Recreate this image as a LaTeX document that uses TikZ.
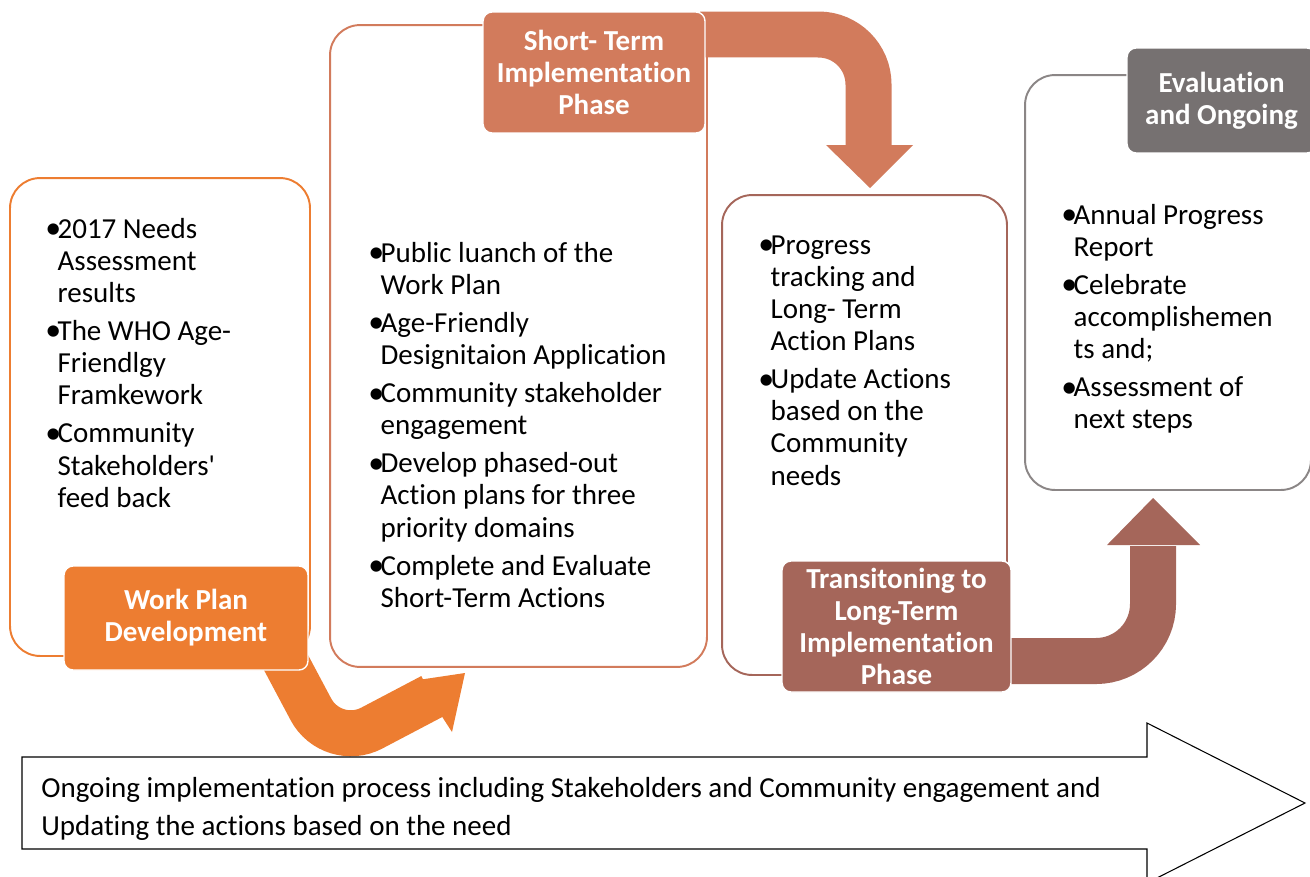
\documentclass[tikz,border=0pt]{standalone}
\usepackage{fontspec}
\setmainfont{Carlito}[Ligatures=CommonOff]
\usepackage{xcolor}
\usepackage{tikz}
\usetikzlibrary{positioning}
\definecolor{PlanOrange}{HTML}{ED7D31}
\definecolor{ShortTerra}{HTML}{D27B5C}
\definecolor{LongBrown}{HTML}{A5665A}
\definecolor{EvalGray}{HTML}{767171}
\newcommand{\bu}{\makebox[7pt][l]{\raisebox{-0.3pt}{\scalebox{1.1}{\textbullet}}}}

\begin{document}
\begin{tikzpicture}[
      x=0.02cm, y=-0.02cm,
      every node/.style={inner sep=0pt, font=\fontsize{16.5pt}{18.3pt}\selectfont},
      phasebox/.style={draw, line width=1.1pt, fill=white, rounded corners=0.6cm},
      phaselabel/.style={draw=white, line width=0.8pt, rounded corners=0.18cm, text=white, align=center, font=\fontsize{16.5pt}{18.2pt}\selectfont\bfseries},
      bullets/.style={anchor=base west, align=left},
      bendband/.style={line width=0.92cm}
    ]
      \useasboundingbox (0,0) rectangle (1310,876);

      % phase boxes
      \node[phasebox, draw=PlanOrange, minimum width=6cm, minimum height=9.56cm] (plan) at (160,417) {};
      \node[phasebox, draw=ShortTerra, minimum width=7.54cm, minimum height=12.84cm] (short) at (518.5,346) {};
      \node[phasebox, draw=LongBrown, minimum width=5.7cm, minimum height=9.6cm] (long) at (864.5,435) {};
      \node[phasebox, draw=EvalGray!85, minimum width=5.72cm, minimum height=8.3cm] (eval) at (1168,282.5) {};

      % bullet texts
      \node[bullets] (plantext) at (45,238) {\begin{tabular}[t]{@{}l@{}l@{}}
        \bu & 2017 Needs\\ & Assessment\\ & results\\[3.4pt]
        \bu & The WHO Age-\\ & Friendlgy\\ & Framkework\\[3.4pt]
        \bu & Community\\ & Stakeholders\textquotesingle\\ & feed back
      \end{tabular}};
      \node[bullets] (shorttext) at (368,262) {\begin{tabular}[t]{@{}l@{}l@{}}
        \bu & Public luanch of the\\ & Work Plan\\[3.4pt]
        \bu & Age-Friendly\\ & Designitaion Application\\[3.4pt]
        \bu & Community stakeholder\\ & engagement\\[3.4pt]
        \bu & Develop phased-out\\ & Action plans for three\\ & priority domains\\[3.4pt]
        \bu & Complete and Evaluate\\ & Short-Term Actions
      \end{tabular}};
      \node[bullets] (longtext) at (758,254) {\begin{tabular}[t]{@{}l@{}l@{}}
        \bu & Progress\\ & tracking and\\ & Long- Term\\ & Action Plans\\[3.4pt]
        \bu & Update Actions\\ & based on the\\ & Community\\ & needs
      \end{tabular}};
      \node[bullets] (evaltext) at (1061,224) {\begin{tabular}[t]{@{}l@{}l@{}}
        \bu & Annual Progress\\ & Report\\[3.4pt]
        \bu & Celebrate\\ & accomplishemen\\ & ts and;\\[3.4pt]
        \bu & Assessment of\\ & next steps
      \end{tabular}};

      % bent arrows from phase to phase
      \draw[bendband, PlanOrange, rounded corners=0.9cm] (282,655) -- (332,749) -- (432,696.4);
      \fill[PlanOrange] (418,680) -- (465,673) -- (452,732) -- (441,715) -- cycle;
      \draw[bendband, ShortTerra, rounded corners=1cm] (700,34.5) -- (868.5,34.5) -- (868.5,146);
      \fill[ShortTerra] (826,145) -- (913,145) -- (870,188) -- cycle;
      \draw[bendband, LongBrown, rounded corners=1.14cm] (1005,661) -- (1153,661) -- (1153,546);
      \fill[LongBrown] (1107,545) -- (1200,545) -- (1153,498) -- cycle;

      % phase labels
      \node[phaselabel, fill=PlanOrange, minimum width=4.88cm, minimum height=2.08cm] (planlab) at (186,618) {Work Plan\\Development};
      \node[phaselabel, fill=ShortTerra, minimum width=4.44cm, minimum height=2.42cm] (shortlab) at (594,72.5) {Short- Term\\Implementation\\Phase};
      \node[phaselabel, fill=LongBrown, minimum width=4.58cm, minimum height=2.62cm] (longlab) at (896.5,626.5) {Transitoning to\\Long-Term\\Implementation\\Phase};
      \node[phaselabel, fill=EvalGray, minimum width=3.78cm, minimum height=2.1cm] (evallab) at (1221.5,100.5) {Evaluation\\and Ongoing};

      % ongoing process arrow
      \draw[line width=0.6pt] (22,757) -- (1147,757) -- (1147,723) -- (1305,803) -- (1147,883) -- (1147,849) -- (22,849) -- cycle;
      \node[anchor=base west] (ongoing) at (41,797) {\begin{tabular}[t]{@{}l@{}}
        Ongoing implementation process including Stakeholders and Community engagement and\\[3.8pt]
        Updating the actions based on the need
      \end{tabular}};

    \end{tikzpicture}
\end{document}
